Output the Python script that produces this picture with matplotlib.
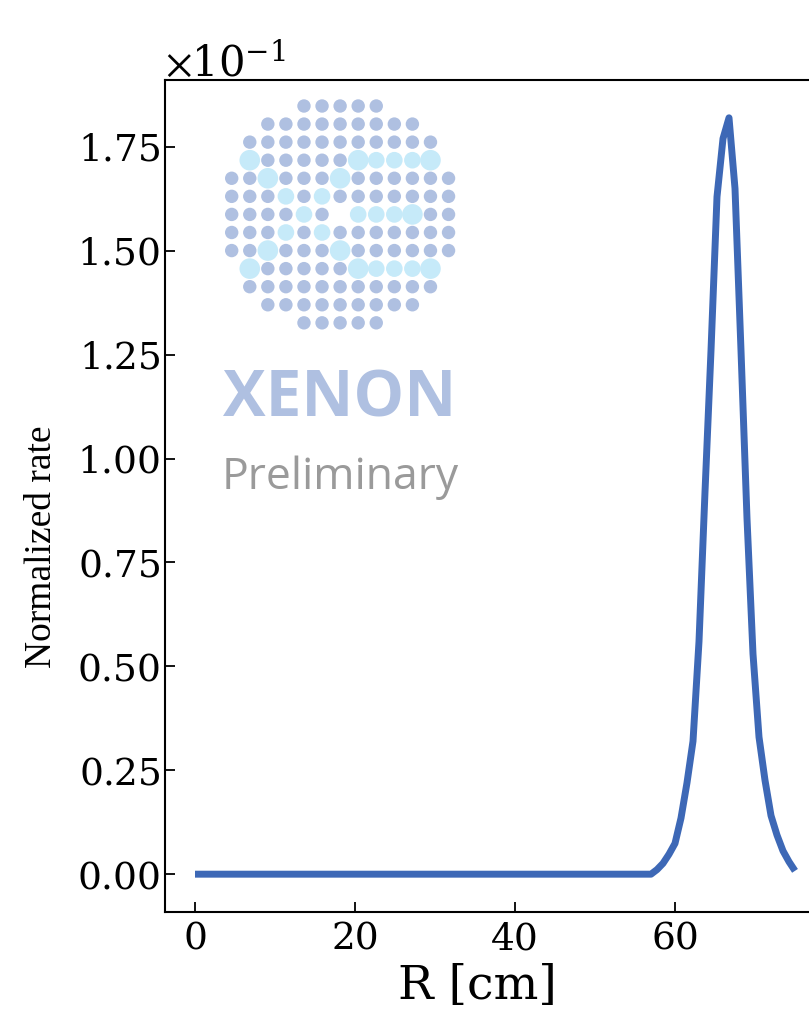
import numpy as np
import matplotlib
matplotlib.use("Agg")
import matplotlib.pyplot as plt
from matplotlib.patches import Circle
from matplotlib.ticker import ScalarFormatter

plt.rcParams['font.family'] = 'DejaVu Serif'
plt.rcParams['mathtext.fontset'] = 'stix'

# radial bins [cm] and the normalized rate in each bin
r_cm = np.linspace(0.0, 75.0, 101)
rate_peak = [0.0011, 0.0026, 0.0048, 0.0074, 0.0135, 0.022, 0.032, 0.056,
             0.092, 0.126, 0.163, 0.177, 0.182, 0.165, 0.126, 0.0856,
             0.053, 0.033, 0.0226, 0.0141, 0.0094, 0.0056, 0.0030, 0.0008]
rate = [0.0] * 77 + rate_peak

x_ticks = [0, 20, 40, 60]

# logo layout: o = regular dot, m = medium highlight, B = big highlight
logo_rows = [
    "....ooooo....",
    "..ooooooooo..",
    ".ooooooooooo.",
    ".BoooooBmmmB.",
    "ooBoooBoooooo",
    "ooomomooooooo",
    "oooomo mmmBoo",
    "ooomomooooooo",
    "ooBoooBoooooo",
    ".BoooooBmmmB.",
    ".ooooooooooo.",
    "..ooooooooo..",
    "....ooooo....",
]

W, H = 809, 1015
fig = plt.figure(figsize=(W / 100, H / 100), dpi=100)
ax = fig.add_axes([165 / W, 1 - 912 / H, 660 / W, 832 / H])

ax.plot(r_cm, rate, color='#3d68b6', lw=5, solid_capstyle='butt')
ax.set_xticks(x_ticks)

fmt = ScalarFormatter(useMathText=True)
fmt.set_powerlimits((0, 0))
ax.yaxis.set_major_formatter(fmt)
ax.yaxis.get_offset_text().set_fontsize(30)

ax.tick_params(direction='in', length=7, width=1.3, labelsize=27)
ax.tick_params(axis='y', pad=3.5)
ax.tick_params(axis='x', pad=7)
for s in ax.spines.values():
    s.set_linewidth(1.5)

ax.set_xlabel('R [cm]', fontsize=34)
ax.xaxis.set_label_coords(0.473, -0.062)
ax.set_ylabel('Normalized rate', fontsize=27, family='Liberation Serif')
ax.yaxis.set_label_coords(-0.16, 0.439)

# logo overlay in pixel coordinates
lg = fig.add_axes([0, 0, 1, 1], zorder=5)
lg.set_xlim(0, W)
lg.set_ylim(H, 0)
lg.axis('off')
lg.patch.set_alpha(0)

blue = '#afc0e1'
cyan = '#c6eaf9'
x0, y0, step = 231.7, 106.0, 18.07
radius = {'o': (6.7, blue), 'm': (8.3, cyan), 'B': (10.3, cyan)}
for i, row in enumerate(logo_rows):
    for j, ch in enumerate(row):
        if ch in radius:
            rad, col = radius[ch]
            lg.add_patch(Circle((x0 + j * step, y0 + i * step), rad,
                                facecolor=col, edgecolor='none'))

lg.text(340, 400, 'XENON', family='Open Sans', weight='bold', fontsize=46,
        color=blue, ha='center', va='center')
lg.text(340, 478, 'Preliminary', family='Open Sans', fontsize=32,
        color='#9a9a9a', ha='center', va='center')

fig.savefig('out.png', dpi=100)
